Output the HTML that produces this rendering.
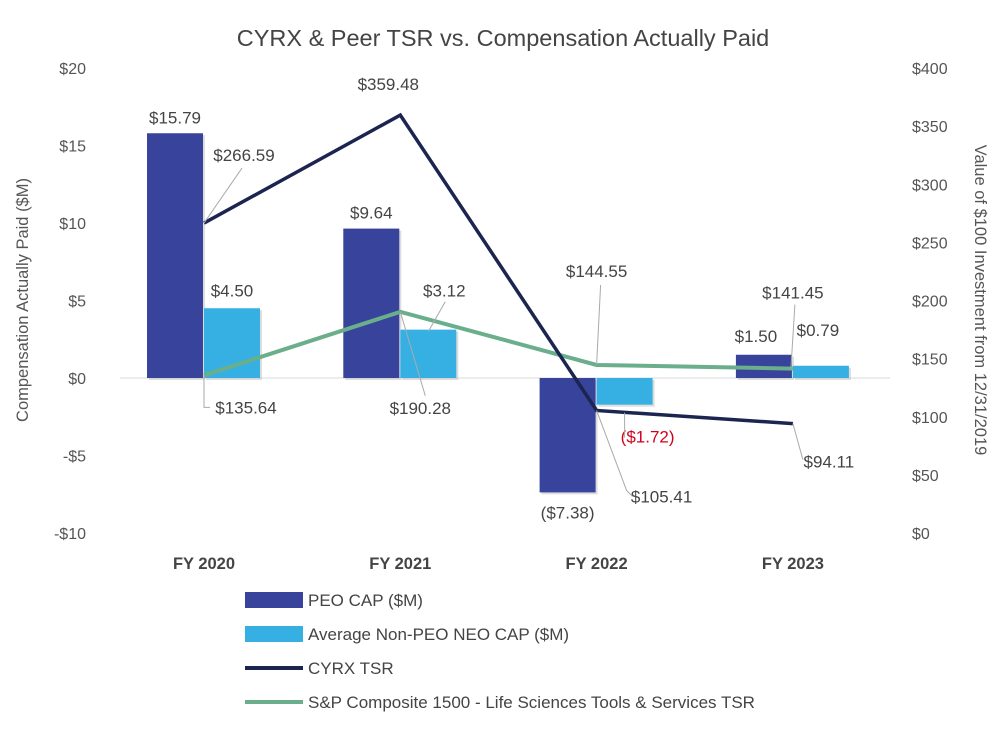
<!DOCTYPE html>
<html><head><meta charset="utf-8"><style>
body{margin:0;background:#fff;}
svg{font-family:"Liberation Sans",sans-serif;}
</style></head><body>
<svg id="c" width="1004" height="728"></svg>
<script>
const categories=["FY 2020","FY 2021","FY 2022","FY 2023"];
const peoCap=[15.79,9.64,-7.38,1.50];
const neoCap=[4.50,3.12,-1.72,0.79];
const cyrxTsr=[266.59,359.48,105.41,94.11];
const spTsr=[135.64,190.28,144.55,141.45];
const leftTicks=[20,15,10,5,0,-5,-10];
const rightTicks=[400,350,300,250,200,150,100,50,0];
const NS="http://www.w3.org/2000/svg";
const svg=document.getElementById('c');
function el(t,a,p){const e=document.createElementNS(NS,t);for(const k in a)e.setAttribute(k,a[k]);(p||svg).appendChild(e);return e;}
const yL=v=>378-v*15.5;
const yR=v=>533-v*1.1625;
const xC=i=>204+i*196.3;
const fmtL=v=>(v<0?"-$":"$")+Math.abs(v);
let t=el('text',{x:503,y:46,'text-anchor':'middle','font-size':23.5,fill:'#444'});
t.textContent="CYRX & Peer TSR vs. Compensation Actually Paid";
let g=el('line',{x1:120,x2:890,y1:yL(0),y2:yL(0),stroke:'#d9d9d9','stroke-width':1});

leftTicks.forEach(v=>{const e=el('text',{x:86,y:yL(v)+6,'text-anchor':'end','font-size':16,fill:'#555'});
e.textContent=fmtL(v);});
rightTicks.forEach(v=>{const e=el('text',{x:912,y:yR(v)+6,'font-size':16,fill:'#555'});
e.textContent="$"+v;});
let a=el('text',{transform:'translate(28,300) rotate(-90)','text-anchor':'middle','font-size':16.5,fill:'#555'});
a.textContent="Compensation Actually Paid ($M)";
a=el('text',{transform:'translate(975,300) rotate(90)','text-anchor':'middle','font-size':16.5,fill:'#555'});
a.textContent="Value of $100 Investment from 12/31/2019";
categories.forEach((c,i)=>{const e=el('text',{x:xC(i),y:569,'text-anchor':'middle','font-size':16.5,'font-weight':'bold',fill:'#444'});
e.textContent=c;});
function bar(v,x,col,name){const y0=yL(0),y1=yL(v);
el('rect',{x:x+2,y:Math.min(y0,y1)+2,width:56,height:Math.abs(y1-y0),fill:'#bbb',opacity:0.5});
const r=el('rect',{x:x,y:Math.min(y0,y1),width:56,height:Math.abs(y1-y0),fill:col});
}
peoCap.forEach((v,i)=>bar(v,xC(i)-57,'#38439b','peo-cap-bar'));
neoCap.forEach((v,i)=>bar(v,xC(i),'#36b0e3','neo-cap-bar'));
function line(arr,col,w,name){const p=el('polyline',{points:arr.map((v,i)=>xC(i)+','+yR(v)).join(' '),fill:'none',stroke:col,'stroke-width':w});
}
line(spTsr,'#6aae8c',4,'sp-tsr-line');
line(cyrxTsr,'#1c2550',3.5,'cyrx-tsr-line');
function lbl(x,y,s,col){const e=el('text',{x:x,y:y,'text-anchor':'middle','font-size':17,fill:col||'#444'});
e.textContent=s;}
function lead(pts){const p=el('polyline',{points:pts,fill:'none',stroke:'#aaa','stroke-width':1});
}
const money=v=>v<0?"($"+Math.abs(v).toFixed(2)+")":"$"+v.toFixed(2);
lbl(xC(0)-29,yL(peoCap[0])-10,money(peoCap[0]));
lbl(xC(1)-29,yL(peoCap[1])-10,money(peoCap[1]));
lbl(xC(2)-29,yL(peoCap[2])+26,money(peoCap[2]));
lbl(xC(3)-37,yL(peoCap[3])-13,money(peoCap[3]));
lbl(xC(0)+28,yL(neoCap[0])-12,money(neoCap[0]));
lbl(xC(1)+44,yL(neoCap[1])-33,money(neoCap[1]));
lbl(xC(2)+51,yL(neoCap[2])+38,money(neoCap[2]),'#d0021b');
lbl(xC(3)+25,yL(neoCap[3])-30,money(neoCap[3]));
lead(`${xC(1)+28},${yL(neoCap[1])+2} ${xC(1)+45},${yL(neoCap[1])-28}`);
lead(`${xC(2)+28},${yL(neoCap[2])+8} ${xC(2)+28},${yL(neoCap[2])+33}`);
lbl(xC(0)+40,yR(cyrxTsr[0])-62,money(cyrxTsr[0]));lead(`${xC(0)},${yR(cyrxTsr[0])} ${xC(0)+38},${yR(cyrxTsr[0])-55}`);
lbl(xC(1)-12,yR(cyrxTsr[1])-25,money(cyrxTsr[1]));
lbl(xC(2)+65,yR(cyrxTsr[2])+92,money(cyrxTsr[2]));lead(`${xC(2)},${yR(cyrxTsr[2])} ${xC(2)+30},${yR(cyrxTsr[2])+80} ${xC(2)+36},${yR(cyrxTsr[2])+86}`);
lbl(xC(3)+36,yR(cyrxTsr[3])+44,money(cyrxTsr[3]));lead(`${xC(3)},${yR(cyrxTsr[3])} ${xC(3)+10},${yR(cyrxTsr[3])+36}`);
lbl(xC(0)+42,yR(spTsr[0])+38,money(spTsr[0]));lead(`${xC(0)},${yR(spTsr[0])} ${xC(0)},${yR(spTsr[0])+32} ${xC(0)+6},${yR(spTsr[0])+32}`);
lbl(xC(1)+20,yR(spTsr[1])+102,money(spTsr[1]));lead(`${xC(1)},${yR(spTsr[1])} ${xC(1)+25},${yR(spTsr[1])+84}`);
lbl(xC(2),yR(spTsr[2])-88,money(spTsr[2]));lead(`${xC(2)},${yR(spTsr[2])} ${xC(2)+4},${yR(spTsr[2])-80}`);
lbl(xC(3),yR(spTsr[3])-70,money(spTsr[3]));lead(`${xC(3)-2},${yR(spTsr[3])} ${xC(3)+2},${yR(spTsr[3])-64}`);
const leg=[["PEO CAP ($M)",'rect','#38439b'],["Average Non-PEO NEO CAP ($M)",'rect','#36b0e3'],["CYRX TSR",'line','#1c2550'],["S&P Composite 1500 - Life Sciences Tools & Services TSR",'line','#6aae8c']];
leg.forEach((d,i)=>{const y=600+i*34;const gg=el('g',{});

if(d[1]=='rect')el('rect',{x:245,y:y-8,width:58,height:16,fill:d[2]},gg);else el('line',{x1:245,x2:303,y1:y,y2:y,stroke:d[2],'stroke-width':4},gg);
const tx=el('text',{x:308,y:y+6,'font-size':17,fill:'#444'},gg);tx.textContent=d[0];});
</script>
</body></html>
